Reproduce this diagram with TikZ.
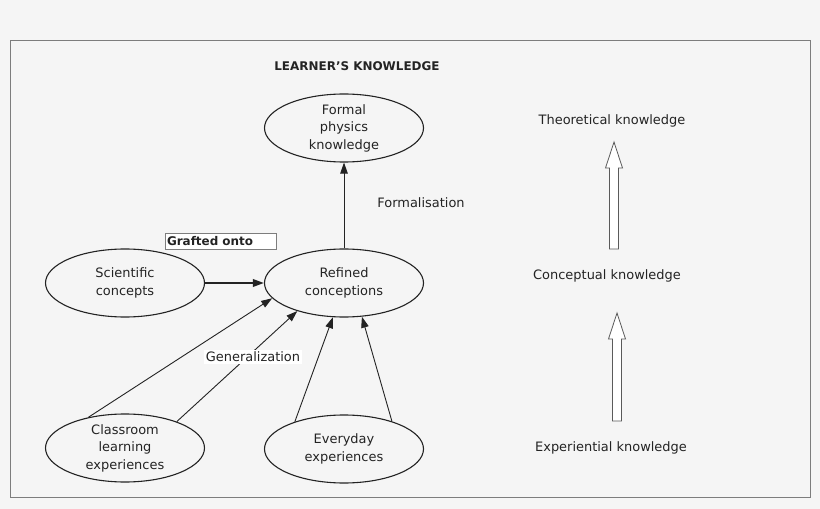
\documentclass[tikz,border=0pt]{standalone}
\usepackage{fontspec}
\setmainfont{DejaVu Sans}
\usetikzlibrary{shapes.geometric,arrows.meta,positioning}
\definecolor{bgcol}{RGB}{245,245,245}
\definecolor{inkcol}{RGB}{35,35,35}
\definecolor{framecol}{RGB}{125,125,125}
\tikzset{
  concept/.style={ellipse,draw=inkcol,line width=1.1bp,minimum width=159bp,minimum height=68bp,inner sep=0pt,align=center,text=inkcol,font=\fontsize{13}{17.5}\selectfont},
  link/.style={-{Triangle[length=11bp,width=7.5bp]},draw=inkcol,line width=0.9bp},
  level/.style={text=inkcol,font=\fontsize{13}{16}\selectfont},
  hollow/.style={draw=inkcol!75,fill=white,line width=0.8bp}
}
\begin{document}
\begin{tikzpicture}[x=1bp,y=-1bp]
  \fill[bgcol] (0,0) rectangle (820,509);
  \draw[framecol] (10,40) rectangle (810,497);
  \node[text=inkcol,font=\bfseries\fontsize{12}{14}\selectfont] (title) at (357,66) {LEARNER'S KNOWLEDGE};
  % ellipses
  \node[concept] (formal) at (344,128) {Formal\\physics\\knowledge};
  \node[concept] (refined) at (344,283) {Refined\\conceptions};
  \node[concept] (sci) at (125,283) {Scientific\\concepts};
  \node[concept] (class) at (125,448) {Classroom\\learning\\experiences};
  \node[concept] (every) at (344,449) {Everyday\\experiences};
  % arrows
  \draw[link] (refined) -- (formal);
  \draw[link,line width=1.8bp] (sci) -- (refined);
  \draw[link] (class.140) -- (refined.192);
  \draw[link] (class.27) -- (refined.211);
  \draw[link] (every.151) -- (refined.252);
  \draw[link] (every.30) -- (refined.298);
  % labels
  \node[level] (formlab) at (421,203) {Formalisation};
  \node[level,fill=white,inner sep=2bp] (genlab) at (253,357) {Generalization};
  \node[draw=framecol,fill=white,line width=0.8bp,minimum width=111bp,minimum height=16bp,inner sep=1bp,text width=107bp,align=left,text=inkcol,font=\bfseries\fontsize{12}{14}\selectfont] (graft) at (220.5,241) {Grafted onto};
  % right column
  \node[level] (theo) at (612,121) {Theoretical knowledge};
  \node[level] (conc) at (607,276) {Conceptual knowledge};
  \node[level] (expe) at (611,448) {Experiential knowledge};
  \foreach \ax/\ay/\by in {614/142/249, 617/313/421}
    \draw[hollow] (\ax-4.5,\by) -- (\ax-4.5,\ay+26) -- (\ax-8.5,\ay+26) -- (\ax,\ay) -- (\ax+8.5,\ay+26) -- (\ax+4.5,\ay+26) -- (\ax+4.5,\by) -- cycle;
\end{tikzpicture}
\end{document}
